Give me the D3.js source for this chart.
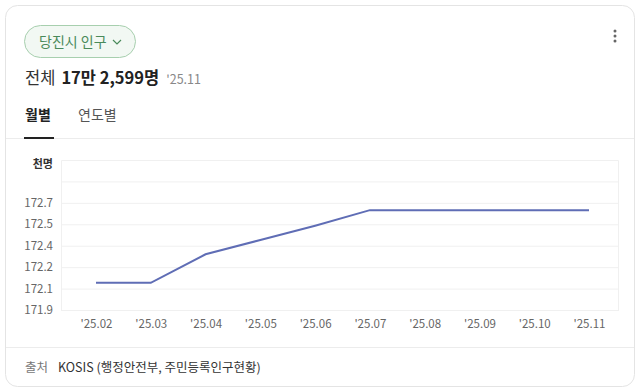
<!DOCTYPE html>
<html>
<head>
<meta charset="utf-8">
<script src="https://cdn.jsdelivr.net/npm/d3@7"></script>
<style>
  body { margin: 0; background: #fff; }
  text { font-family: "Noto Sans CJK KR", "Noto Sans", sans-serif; }
</style>
</head>
<body>
<script>
var w = 640;
var h = 391;

// data (천명)
var months = ["'25.02", "'25.03", "'25.04", "'25.05", "'25.06", "'25.07", "'25.08", "'25.09", "'25.10", "'25.11"];
var population = [172.09, 172.09, 172.29, 172.39, 172.49, 172.599, 172.599, 172.599, 172.599, 172.599];
var yTicks = [171.9, 172.05, 172.2, 172.35, 172.5, 172.65, 172.8];
var yTickLabels = ["171.9", "172.1", "172.2", "172.4", "172.5", "172.7", ""];

var svg = d3.select("body")
    .append("svg")
    .attr("width", w)
    .attr("height", h);

// card
svg.append("rect")
    .attr("x", 5.5).attr("y", 5.5)
    .attr("width", 629).attr("height", 381)
    .attr("rx", 12)
    .attr("fill", "#fff")
    .attr("stroke", "#e4e4e4");

// pill button
svg.append("rect")
    .attr("x", 24.5).attr("y", 25.5)
    .attr("width", 111).attr("height", 32)
    .attr("rx", 16)
    .attr("fill", "#f2f8f3")
    .attr("stroke", "#a7cfae");
svg.append("text")
    .attr("x", 39).attr("y", 47)
    .attr("font-size", 14)
    .attr("fill", "#4a8a5a")
    .text("당진시 인구");
svg.append("path")
    .attr("d", "M113,40 L117,44 L121,40")
    .attr("fill", "none")
    .attr("stroke", "#4a8a5a")
    .attr("stroke-width", 1.2);

// more icon
[31, 36, 41].forEach(function (cy) {
    svg.append("circle").attr("cx", 615).attr("cy", cy).attr("r", 1.5).attr("fill", "#666");
});

// headline
var head = svg.append("text").attr("x", 25).attr("y", 84).attr("fill", "#222");
head.append("tspan").attr("font-size", 16.5).attr("fill", "#333").text("전체");
head.append("tspan").attr("font-size", 16.5).attr("font-weight", "bold").attr("dx", 6).text("17만 2,599명");
head.append("tspan").attr("font-size", 12.5).attr("fill", "#888").attr("dx", 7).text("'25.11");

// tabs
svg.append("text")
    .attr("x", 25).attr("y", 120)
    .attr("font-size", 14).attr("font-weight", "bold").attr("fill", "#222")
    .text("월별");
svg.append("text")
    .attr("x", 78).attr("y", 120)
    .attr("font-size", 14).attr("fill", "#555")
    .text("연도별");
svg.append("line")
    .attr("x1", 6).attr("x2", 634).attr("y1", 138.5).attr("y2", 138.5)
    .attr("stroke", "#ececec");
svg.append("line")
    .attr("x1", 24).attr("x2", 54).attr("y1", 138).attr("y2", 138)
    .attr("stroke", "#222").attr("stroke-width", 2);

// chart
var plotLeft = 61, plotRight = 619, plotTop = 160, plotBottom = 310;

var x = d3.scalePoint()
    .domain(months)
    .range([96, 589]);

var y = d3.scaleLinear()
    .domain([171.9, 172.95])
    .range([plotBottom, plotTop]);

// plot frame
svg.append("path")
    .attr("d", "M" + (plotLeft + 0.5) + "," + (plotBottom) + "V" + (plotTop + 0.5) + "H" + (plotRight - 0.5) + "V" + plotBottom)
    .attr("fill", "none")
    .attr("stroke", "#f0f0f0");

// y axis with gridlines
var yAxis = d3.axisLeft(y)
    .tickValues(yTicks)
    .tickSize(-(plotRight - plotLeft))
    .tickPadding(8)
    .tickFormat(function (d, i) { return yTickLabels[i]; });

var gy = svg.append("g")
    .attr("transform", "translate(" + plotLeft + ",0)")
    .call(yAxis);
gy.select(".domain").remove();
gy.selectAll("line").attr("stroke", "#f0f0f0");
gy.selectAll("text")
    .attr("font-size", 11.5)
    .attr("fill", "#666")
    .attr("font-family", "'Noto Sans', sans-serif");

svg.append("text")
    .attr("x", 53).attr("y", 168)
    .attr("text-anchor", "end")
    .attr("font-size", 11).attr("font-weight", "bold").attr("fill", "#333")
    .text("천명");

// x axis
var xAxis = d3.axisBottom(x)
    .tickSize(0)
    .tickPadding(10);

var gx = svg.append("g")
    .attr("transform", "translate(0," + plotBottom + ")")
    .call(xAxis);
gx.select(".domain").remove();
gx.selectAll("text")
    .attr("font-size", 11.5)
    .attr("fill", "#666")
    .attr("font-family", "'Noto Sans', sans-serif");

// line
var line = d3.line()
    .x(function (d, i) { return x(months[i]); })
    .y(function (d) { return y(d); });

svg.append("path")
    .datum(population)
    .attr("d", line)
    .attr("fill", "none")
    .attr("stroke", "#5f6db5")
    .attr("stroke-width", 2);

// footer
svg.append("line")
    .attr("x1", 6).attr("x2", 634).attr("y1", 347.5).attr("y2", 347.5)
    .attr("stroke", "#ececec");
svg.append("text")
    .attr("x", 25).attr("y", 372)
    .attr("font-size", 12.5).attr("fill", "#777")
    .text("출처");
svg.append("text")
    .attr("x", 58).attr("y", 372)
    .attr("font-size", 12.5).attr("fill", "#333")
    .text("KOSIS (행정안전부, 주민등록인구현황)");
</script>
</body>
</html>
